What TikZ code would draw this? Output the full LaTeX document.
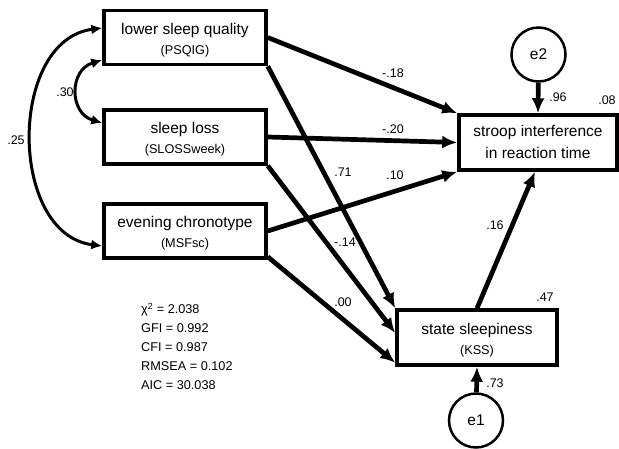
\documentclass[tikz,border=0pt]{standalone}
\usepackage{fontspec}
\setmainfont{Liberation Sans}
\usetikzlibrary{arrows.meta,calc}
\begin{document}
\begin{tikzpicture}[x=1pt,y=-1pt,
  box/.style={draw, line width=3.5pt, inner sep=0pt, minimum width=162pt, minimum height=54pt,
    align=center, font=\fontsize{15.5}{20}\selectfont, text height=36pt, text depth=3pt},
  errc/.style={circle, draw, line width=2.5pt, minimum size=54pt, inner sep=0pt, font=\fontsize{15.5}{18}\selectfont},
  pth/.style={line width=4.7pt, -{Latex[length=15pt,width=13pt]}},
  cov/.style={line width=3pt, {Latex[length=11pt,width=10pt]}-{Latex[length=11pt,width=10pt]}},
  lbl/.style={inner sep=0pt, font=\fontsize{12.5}{15}\selectfont}
]
\useasboundingbox (0,0) rectangle (619,448);
\newcommand{\subtxt}[1]{{\fontsize{12.7}{15}\selectfont #1}}

\node[box] (b1) at (185,37.5) {lower sleep quality\\\subtxt{(PSQIG)}};
\node[box] (b2) at (185,137) {sleep loss\\\subtxt{(SLOSSweek)}};
\node[box] (b3) at (185,231) {evening chronotype\\\subtxt{(MSFsc)}};
\node[box, minimum width=158pt, minimum height=55pt, text height=35pt, text depth=3pt] (st) at (538,142.5) {stroop interference\\[2pt]in reaction time};
\node[box, minimum width=160pt, minimum height=55pt] (kss) at (477,337.5) {state sleepiness\\\subtxt{(KSS)}};

\node[errc] (e2) at (538.5,54.5) {e2};
\node[errc] (e1) at (476,420.5) {e1};

\draw[cov] ([yshift=9.5pt]b1.west) .. controls (8,40) and (8,234) .. ([yshift=-15pt]b3.west);
\draw[cov] ([yshift=-22.5pt]b1.west) .. controls (69,70) and (69,113) .. ([yshift=14pt]b2.west);

\draw[pth] (b1.east) -- (st.north west);
\draw[pth] (b2.east) -- (st.west);
\draw[pth] (b3.east) -- (st.south west);
\draw[pth] (b1.south east) -- (kss.north west);
\draw[pth] (b2.south east) -- ([yshift=4.5pt]kss.west);
\draw[pth] ([yshift=3pt]b3.south east) -- ([yshift=4pt]kss.south west);
\draw[pth] (kss.north) -- ([xshift=-3pt]st.south);
\draw[pth] (e2) -- (st.north);
\draw[pth] (e1) -- (kss.south);

\node[lbl] (l1) at (393,73) {-.18};
\node[lbl] (l2) at (393,129) {-.20};
\node[lbl] (l3) at (343,172) {.71};
\node[lbl] (l4) at (395,175) {.10};
\node[lbl] (l5) at (345,242) {-.14};
\node[lbl] (l6) at (343,302) {.00};
\node[lbl] (l7) at (495,225) {.16};
\node[lbl] (l8) at (545,297) {.47};
\node[lbl] (l9) at (607,100) {.08};
\node[lbl] (l10) at (558,97) {.96};
\node[lbl] (l11) at (495,383) {.73};
\node[lbl] (l12) at (65,92) {.30};
\node[lbl] (l13) at (16,140) {.25};

\node[inner sep=0pt, anchor=base west, align=left, font=\fontsize{12.7}{19}\selectfont] (stats) at (141,389.5)
  {χ\textsuperscript{2} = 2.038\\GFI = 0.992\\CFI = 0.987\\RMSEA = 0.102\\AIC = 30.038};
\end{tikzpicture}
\end{document}
